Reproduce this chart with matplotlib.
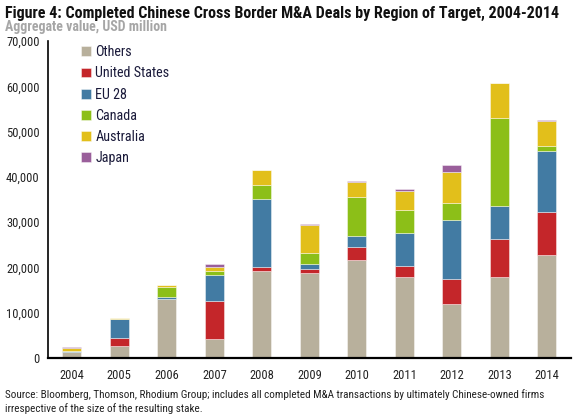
import numpy as np
import matplotlib
matplotlib.use("Agg")
import matplotlib.pyplot as plt
from matplotlib import font_manager

# pick a narrow face if one is around
available = set(f.name for f in font_manager.fontManager.ttflist)
narrow = 'DejaVu Sans'
for cand in ['Roboto Condensed', 'Archivo Narrow', 'PT Sans Narrow', 'Liberation Sans Narrow',
             'Barlow Condensed', 'Open Sans Condensed']:
    if cand in available:
        narrow = cand
        break
plt.rcParams['font.family'] = [narrow, 'DejaVu Sans']

years = ['2004', '2005', '2006', '2007', '2008', '2009', '2010', '2011', '2012', '2013', '2014']
series = ['Others', 'United States', 'EU 28', 'Canada', 'Australia', 'Japan']
colors = ['#b8b09c', '#c4262a', '#427ba3', '#8cbf18', '#e2bf1b', '#9a5f9b']

others = [1400, 2650, 12950, 4200, 19150, 18700, 21550, 17950, 11900, 17800, 22750]
united_states = [0, 1750, 100, 8300, 850, 1000, 3050, 2450, 5550, 8400, 9550]
eu28 = [200, 4150, 500, 5900, 15200, 1100, 2350, 7250, 13100, 7400, 13400]
canada = [0, 100, 2100, 900, 3050, 2400, 8600, 5100, 3600, 19450, 1100]
australia = [700, 200, 400, 800, 3250, 6200, 3350, 4200, 6850, 7600, 5600]
japan = [100, 0, 100, 600, 0, 200, 250, 350, 1550, 100, 150]

data = [others, united_states, eu28, canada, australia, japan]

fig = plt.figure(figsize=(5.83, 4.18), dpi=100)
ax = fig.add_axes([0.0823, 0.1435, 0.8967, 0.758])

x = np.arange(len(years))
bottom = np.zeros(len(years))
handles = []
for name, vals, col in zip(series, data, colors):
    vals = np.array(vals, dtype=float)
    b = ax.bar(x, vals, width=0.4, bottom=bottom, color=col, label=name,
               edgecolor=(1, 1, 1, 0.5), linewidth=0.6)
    handles.append(b)
    bottom += vals

ax.set_xlim(-0.5, 10.5)
ax.set_ylim(0, 70000)
ax.set_yticks(np.arange(0, 70001, 10000))
ax.set_yticklabels([f"{v:,}" for v in range(0, 70001, 10000)])
ax.set_xticks(x)
ax.set_xticklabels(years)
ax.tick_params(length=0, labelsize=9, colors='#222222', pad=8)
ax.tick_params(axis='y', pad=6)
for s in ['top', 'right']:
    ax.spines[s].set_visible(False)
ax.spines['left'].set_linewidth(1.2)
ax.spines['bottom'].set_linewidth(1.6)

leg = ax.legend(handles=handles, loc='upper left', bbox_to_anchor=(0.038, 1.027),
                frameon=False, fontsize=10.2, handlelength=0.7, handleheight=0.7,
                handletextpad=0.35, labelspacing=0.5)
for t in leg.get_texts():
    t.set_color('#1a1a3a')

fig.text(0.008, 0.968, "Figure 4: Completed Chinese Cross Border M&A Deals by Region of Target, 2004-2014",
         fontsize=11.5, fontweight='bold', color='#111111', va='center')
fig.text(0.008, 0.935, "Aggregate value, USD million", fontsize=10, fontweight='bold',
         color='#a6a6a6', va='center')
fig.text(0.008, 0.055, "Source: Bloomberg, Thomson, Rhodium Group; includes all completed M&A transactions by ultimately Chinese-owned firms",
         fontsize=8, color='#222222', va='center')
fig.text(0.008, 0.022, "irrespective of the size of the resulting stake.",
         fontsize=8, color='#222222', va='center')

fig.savefig("out.png", dpi=100)
